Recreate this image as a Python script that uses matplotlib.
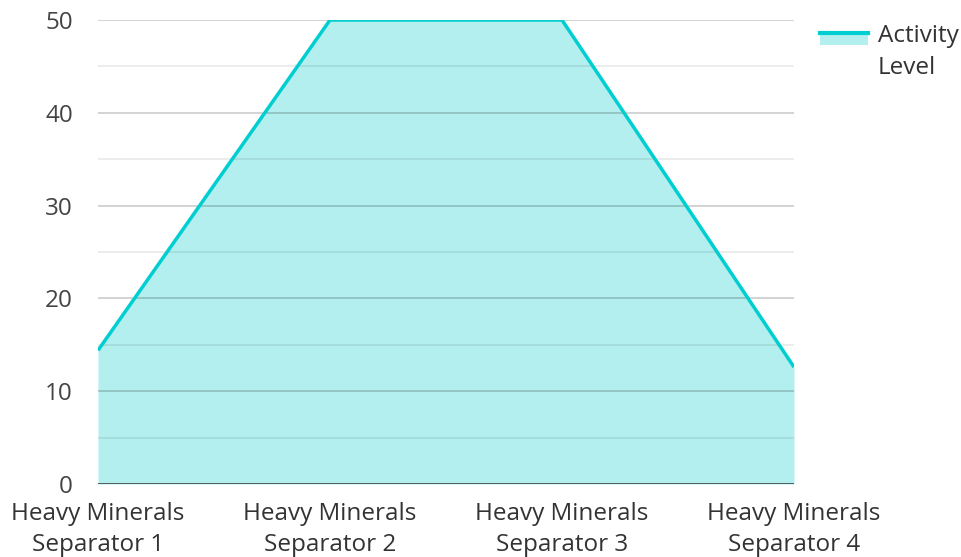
import matplotlib.pyplot as plt
import matplotlib.patches as mpatches
from matplotlib.lines import Line2D

plt.rcParams['font.family'] = ['Open Sans', 'DejaVu Sans']

categories = ['Heavy Minerals\nSeparator 1', 'Heavy Minerals\nSeparator 2',
              'Heavy Minerals\nSeparator 3', 'Heavy Minerals\nSeparator 4']
activity = [14.4, 50, 50, 12.6]
yticks = [0, 10, 20, 30, 40, 50]
series_name = 'Activity\nLevel'

line_color = '#00CED1'
fill_color = '#b2efee'

fig = plt.figure(figsize=(9.62, 5.57), dpi=100)
ax = fig.add_axes([98 / 962, 1 - 484 / 557, 696 / 962, 464 / 557])

x = list(range(len(categories)))
ax.fill_between(x, activity, 0, color=fill_color, zorder=1, linewidth=0)
ax.plot(x, activity, color=line_color, linewidth=2.5, zorder=4, solid_capstyle='butt')

# grid lines, translucent so they show darker through the fill
for v in range(5, 50, 10):
    ax.axhline(v, color='black', alpha=0.09, linewidth=1.2, zorder=2)
for v in yticks[1:]:
    ax.axhline(v, color='black', alpha=0.2, linewidth=1.2, zorder=2)
ax.axhline(0, color='#333333', linewidth=1.8, zorder=5)

ax.set_xlim(0, 3)
ax.set_ylim(0, 50)
ax.set_yticks(yticks)
ax.set_xticks(x)
ax.set_xticklabels(categories, fontsize=17.5, color='#333333', linespacing=1.4)
ax.tick_params(axis='y', labelsize=17.5, labelcolor='#444444', length=0, pad=18)
ax.tick_params(axis='x', length=0, pad=13)
for s in ax.spines.values():
    s.set_visible(False)

# legend drawn by hand in figure pixels
W, H = 962, 557
fig.patches.append(mpatches.Rectangle((820 / W, 1 - 45 / H), 48 / W, 13 / H,
                                      facecolor=fill_color, edgecolor='none',
                                      transform=fig.transFigure))
fig.lines.append(Line2D([820 / W, 868 / W], [1 - 33 / H, 1 - 33 / H], color=line_color,
                        linewidth=3, transform=fig.transFigure))
fig.text(878 / W, 1 - 24 / H, series_name, fontsize=17.5, color='#333333',
         va='top', ha='left', linespacing=1.42)

fig.savefig('out.png', dpi=100)
